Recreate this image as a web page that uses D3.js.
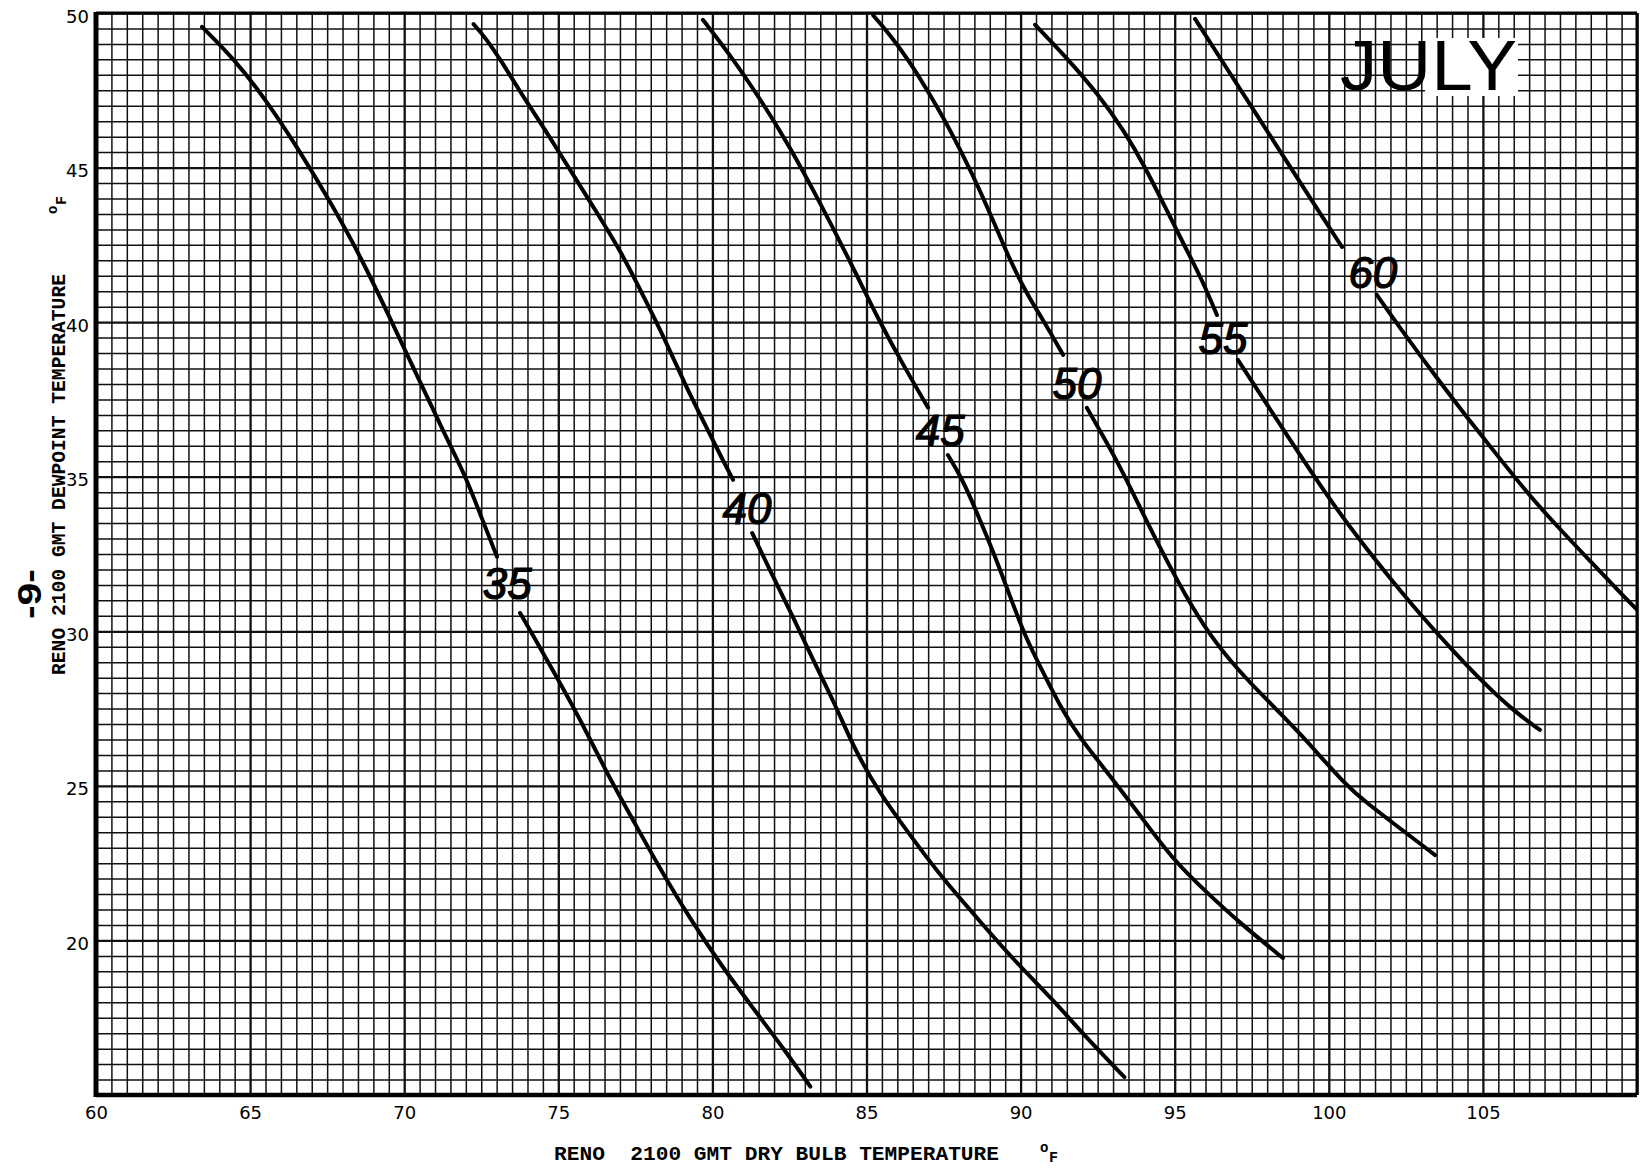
<!DOCTYPE html>
<style>body { margin: 0; background: #fff; }</style>
<svg width="1640" height="1168"></svg>
<script src="https://d3js.org/d3.v7.min.js"></script>
<script>
  var svg = d3.select("svg"),
      margin = {top: 13, right: 3, bottom: 73, left: 96},
      width = +svg.attr("width") - margin.left - margin.right,
      height = +svg.attr("height") - margin.top - margin.bottom,
      g = svg.append("g").attr("transform", "translate(" + margin.left + "," + margin.top + ")");

  // axis ticks
  var xTicks = [60, 65, 70, 75, 80, 85, 90, 95, 100, 105];
  var yTicks = [20, 25, 30, 35, 40, 45, 50];

  // wet bulb lines, each drawn in two pieces around its label
  var curveLabels = ["35", "40", "45", "50", "55", "60"];
  var labelX = [73.34, 81.12, 87.39, 91.83, 96.57, 101.43];
  var labelY = [31.56, 33.99, 36.51, 38.03, 39.49, 41.63];

  var wb35a = [[63.44,49.55],[64.45,48.55],[65.55,47.15],[66.62,45.51],[67.6,43.9],[68.6,42.1],[69.6,40.0],[70.5,38.1],[71.3,36.4],[72.0,35.0],[72.5,33.7],[73.01,32.41]];
  var wb35b = [[73.76,30.59],[74.19,29.85],[74.87,28.66],[75.72,27.14],[76.56,25.44],[77.41,23.92],[78.26,22.39],[79.28,20.69],[80.3,19.17],[81.32,17.81],[82.34,16.46],[83.18,15.27]];
  var wb40a = [[72.25,49.64],[72.66,49.17],[73.17,48.42],[73.85,47.31],[74.53,46.29],[75.38,44.93],[76.23,43.58],[77.07,42.22],[77.75,40.86],[78.43,39.51],[79.11,37.98],[79.79,36.63],[80.3,35.61],[80.67,34.9]];
  var wb40b = [[81.29,33.18],[81.95,31.8],[82.62,30.46],[83.3,29.0],[84.0,27.6],[84.6,26.2],[85.4,24.8],[86.41,23.41],[87.43,22.05],[88.62,20.69],[89.8,19.34],[90.99,18.15],[92.18,16.8],[93.37,15.58]];
  var wb45a = [[79.69,49.78],[80.5,48.75],[81.5,47.3],[82.5,45.7],[83.5,43.85],[84.5,41.9],[85.44,39.98],[86.2,38.6],[87.0,37.23]];
  var wb45b = [[87.64,35.7],[88.11,34.93],[88.62,33.75],[89.12,32.56],[89.63,31.2],[90.14,29.85],[90.65,28.83],[91.33,27.47],[92.0,26.45],[92.58,25.74],[93.87,24.06],[94.95,22.6],[96.05,21.54],[97.12,20.56],[98.51,19.43]];
  var wb50a = [[85.22,49.92],[85.73,49.34],[86.41,48.42],[87.09,47.31],[87.77,46.12],[88.45,44.76],[89.06,43.41],[89.63,42.05],[90.21,40.9],[90.73,40.07],[91.38,38.94]];
  var wb50b = [[92.15,37.23],[92.69,36.29],[93.23,35.32],[93.9,33.95],[94.6,32.55],[95.35,31.15],[96.15,29.85],[97.05,28.75],[97.99,27.78],[99.07,26.71],[100.53,25.03],[101.3,24.4],[102.08,23.8],[103.45,22.76]];
  var wb55a = [[90.47,49.62],[91.5,48.55],[92.51,47.38],[93.36,46.19],[94.04,45.02],[94.72,43.66],[95.4,42.31],[95.92,41.3],[96.37,40.23]];
  var wb55b = [[97.05,38.78],[98.0,37.33],[99.0,35.8],[100.04,34.25],[101.0,32.95],[102.0,31.7],[103.0,30.5],[104.0,29.4],[105.0,28.35],[106.0,27.42],[106.85,26.81]];
  var wb60a = [[95.66,49.81],[96.6,48.35],[97.6,46.8],[98.6,45.25],[99.6,43.7],[100.43,42.43]];
  var wb60b = [[101.56,40.88],[102.5,39.55],[103.5,38.2],[104.5,36.9],[105.5,35.65],[106.5,34.4],[107.5,33.3],[108.5,32.25],[109.5,31.2],[110.0,30.7]];

  var curves = [wb35a, wb35b, wb40a, wb40b, wb45a, wb45b, wb50a, wb50b, wb55a, wb55b, wb60a, wb60b];

  var x = d3.scaleLinear()
      .domain([60, 110])
      .range([0, width]);

  var y = d3.scaleLinear()
      .domain([15, 50])
      .range([height, 0]);

  // graph paper, half-degree squares
  g.append("g")
      .attr("transform", "translate(0," + height + ")")
      .call(d3.axisBottom(x).ticks(100).tickSize(-height).tickFormat(""))
      .call(function(a) { a.select(".domain").remove(); })
      .selectAll("line")
      .attr("stroke", "#111")
      .attr("stroke-width", function(d) { return d % 5 === 0 ? 2.3 : 1.5; });

  g.append("g")
      .call(d3.axisLeft(y).ticks(70).tickSize(-width).tickFormat(""))
      .call(function(a) { a.select(".domain").remove(); })
      .selectAll("line")
      .attr("stroke", "#111")
      .attr("stroke-width", function(d) { return d % 5 === 0 ? 2.3 : 1.5; });

  // frame
  g.append("line").attr("x1", 0).attr("x2", width).attr("y1", 0).attr("y2", 0)
      .attr("stroke", "#000").attr("stroke-width", 3);
  g.append("line").attr("x1", width).attr("x2", width).attr("y1", 0).attr("y2", height)
      .attr("stroke", "#000").attr("stroke-width", 3);
  g.append("line").attr("x1", 0).attr("x2", width).attr("y1", height).attr("y2", height)
      .attr("stroke", "#000").attr("stroke-width", 4.5);
  g.append("line").attr("x1", 0).attr("x2", 0).attr("y1", -1).attr("y2", height + 2)
      .attr("stroke", "#000").attr("stroke-width", 5);

  // tick labels
  g.append("g")
      .attr("transform", "translate(0," + height + ")")
      .call(d3.axisBottom(x).tickValues(xTicks).tickSize(0).tickPadding(11))
      .attr("font-family", "DejaVu Sans")
      .attr("font-size", 18)
      .call(function(a) { a.select(".domain").remove(); })
      .selectAll("text").attr("fill", "#000");

  g.append("g")
      .call(d3.axisLeft(y).tickValues(yTicks).tickSize(0).tickPadding(7))
      .attr("font-family", "DejaVu Sans")
      .attr("font-size", 18)
      .call(function(a) { a.select(".domain").remove(); })
      .selectAll("text").attr("fill", "#000").attr("dy", "0.5em");

  // JULY
  svg.append("rect")
      .attr("x", 1425).attr("y", 38).attr("width", 93).attr("height", 58)
      .attr("fill", "#fff");
  svg.append("text")
      .attr("x", 1340)
      .attr("y", 90)
      .attr("font-family", "Liberation Sans")
      .attr("font-size", 70)
      .attr("textLength", 177)
      .attr("lengthAdjust", "spacingAndGlyphs")
      .attr("fill", "#000")
      .text("JULY");

  // wet bulb curves
  svg.append("clipPath").attr("id", "plot")
      .append("rect").attr("width", width).attr("height", height);

  var line = d3.line()
      .curve(d3.curveBasis)
      .x(function(d) { return x(d[0]); })
      .y(function(d) { return y(d[1]); });

  g.append("g")
      .attr("clip-path", "url(#plot)")
      .selectAll("path")
      .data(curves)
      .enter().append("path")
      .attr("fill", "none")
      .attr("stroke", "#000")
      .attr("stroke-width", 4)
      .attr("stroke-linecap", "round")
      .attr("stroke-linejoin", "round")
      .attr("d", line);

  g.selectAll(".wb-label")
      .data(curveLabels)
      .enter().append("text")
      .attr("class", "wb-label")
      .attr("x", function(d, i) { return x(labelX[i]); })
      .attr("y", function(d, i) { return y(labelY[i]); })
      .attr("dy", "0.36em")
      .attr("text-anchor", "middle")
      .attr("font-family", "Liberation Sans")
      .attr("font-style", "italic")
      .attr("font-size", 44)
      .attr("fill", "#000")
      .attr("stroke", "#000")
      .attr("stroke-width", 1.2)
      .text(function(d) { return d; });

  // axis titles
  svg.append("text")
      .attr("x", 554)
      .attr("y", 1160)
      .attr("font-family", "Liberation Mono")
      .attr("font-weight", "bold")
      .attr("font-size", 21)
      .attr("textLength", 445)
      .attr("lengthAdjust", "spacingAndGlyphs")
      .style("white-space", "pre")
      .text("RENO  2100 GMT DRY BULB TEMPERATURE");
  svg.append("text").attr("x", 1040).attr("y", 1152)
      .attr("font-family", "Liberation Mono").attr("font-weight", "bold").attr("font-size", 14).text("o");
  svg.append("text").attr("x", 1049).attr("y", 1162)
      .attr("font-family", "Liberation Mono").attr("font-weight", "bold").attr("font-size", 15).text("F");

  svg.append("text")
      .attr("transform", "translate(65,675) rotate(-90)")
      .attr("font-family", "Liberation Mono")
      .attr("font-weight", "bold")
      .attr("font-size", 21)
      .attr("textLength", 401)
      .attr("lengthAdjust", "spacingAndGlyphs")
      .text("RENO 2100 GMT DEWPOINT TEMPERATURE");
  svg.append("text").attr("transform", "translate(57,214) rotate(-90)")
      .attr("font-family", "Liberation Mono").attr("font-weight", "bold").attr("font-size", 14).text("o");
  svg.append("text").attr("transform", "translate(66,205) rotate(-90)")
      .attr("font-family", "Liberation Mono").attr("font-weight", "bold").attr("font-size", 15).text("F");

  // page number
  svg.append("text")
      .attr("transform", "translate(41,619) rotate(-90)")
      .attr("font-family", "Liberation Sans")
      .attr("font-weight", "bold")
      .attr("font-size", 34)
      .attr("textLength", 50)
      .attr("lengthAdjust", "spacingAndGlyphs")
      .text("-9-");
</script>
